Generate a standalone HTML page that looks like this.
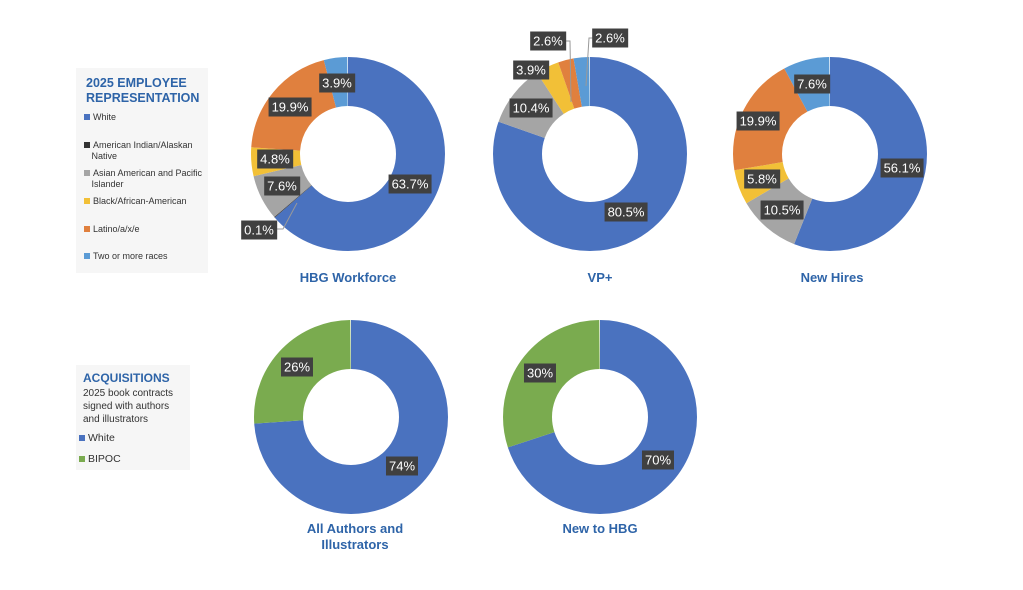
<!DOCTYPE html>
<html><head><meta charset="utf-8"><style>
body{margin:0;width:1023px;height:590px;background:#fff;position:relative;overflow:hidden;font-family:"Liberation Sans",sans-serif}
.lb{position:absolute;transform:translate(-50%,-50%);background:#404040;color:#fff;font-size:13px;padding:2px 3px;white-space:nowrap;line-height:15px}
.t{position:absolute;transform:translateX(-50%);color:#2E64A8;font-weight:bold;font-size:13px;text-align:center;line-height:16px;white-space:nowrap}
.box{position:absolute;background:#f6f6f6}
.li{font-size:9px;color:#333;position:absolute;left:8px;line-height:11px;white-space:nowrap}
.li i{display:inline-block;width:6px;height:6px;margin-right:3px;vertical-align:0}
</style></head><body>
<svg width="1023" height="590" style="position:absolute;left:0;top:0">
<g fill="none" stroke-width="49">
<g transform="translate(348,154) rotate(-90)">
<circle r="72.5" pathLength="100" stroke="#4A72BF" stroke-dasharray="63.7 100" stroke-dashoffset="0"/>
<circle r="72.5" pathLength="100" stroke="#333" stroke-dasharray="0.15 100" stroke-dashoffset="-63.7"/>
<circle r="72.5" pathLength="100" stroke="#A5A5A5" stroke-dasharray="7.6 100" stroke-dashoffset="-63.8"/>
<circle r="72.5" pathLength="100" stroke="#F2C037" stroke-dasharray="4.8 100" stroke-dashoffset="-71.4"/>
<circle r="72.5" pathLength="100" stroke="#E0803E" stroke-dasharray="19.9 100" stroke-dashoffset="-76.2"/>
<circle r="72.5" pathLength="100" stroke="#5B9BD5" stroke-dasharray="3.9 100" stroke-dashoffset="-96.1"/>
</g>
<g transform="translate(590,154) rotate(-90)">
<circle r="72.5" pathLength="100" stroke="#4A72BF" stroke-dasharray="80.5 100" stroke-dashoffset="0"/>
<circle r="72.5" pathLength="100" stroke="#A5A5A5" stroke-dasharray="10.4 100" stroke-dashoffset="-80.5"/>
<circle r="72.5" pathLength="100" stroke="#F2C037" stroke-dasharray="3.9 100" stroke-dashoffset="-90.9"/>
<circle r="72.5" pathLength="100" stroke="#E0803E" stroke-dasharray="2.6 100" stroke-dashoffset="-94.8"/>
<circle r="72.5" pathLength="100" stroke="#5B9BD5" stroke-dasharray="2.6 100" stroke-dashoffset="-97.4"/>
</g>
<g transform="translate(830,154) rotate(-90)">
<circle r="72.5" pathLength="100" stroke="#4A72BF" stroke-dasharray="56.1 100" stroke-dashoffset="0"/>
<circle r="72.5" pathLength="100" stroke="#A5A5A5" stroke-dasharray="10.5 100" stroke-dashoffset="-56.1"/>
<circle r="72.5" pathLength="100" stroke="#F2C037" stroke-dasharray="5.8 100" stroke-dashoffset="-66.6"/>
<circle r="72.5" pathLength="100" stroke="#E0803E" stroke-dasharray="19.9 100" stroke-dashoffset="-72.4"/>
<circle r="72.5" pathLength="100" stroke="#5B9BD5" stroke-dasharray="7.7 100" stroke-dashoffset="-92.3"/>
</g>
<g transform="translate(351,417) rotate(-90)">
<circle r="72.5" pathLength="100" stroke="#4A72BF" stroke-dasharray="74 100"/>
<circle r="72.5" pathLength="100" stroke="#7AAB4F" stroke-dasharray="26 100" stroke-dashoffset="-74"/>
</g>
<g transform="translate(600,417) rotate(-90)">
<circle r="72.5" pathLength="100" stroke="#4A72BF" stroke-dasharray="70 100"/>
<circle r="72.5" pathLength="100" stroke="#7AAB4F" stroke-dasharray="30 100" stroke-dashoffset="-70"/>
</g>
</g>
<g fill="none" stroke="#999" stroke-width="1">
<polyline points="277,229 283,229 297,203"/>
<polyline points="564,41 570,41 571,102"/>
<polyline points="594,38 589,38 586,86"/>
</g>
</svg>
<div class="lb" style="left:337px;top:83px">3.9%</div>
<div class="lb" style="left:290px;top:107px">19.9%</div>
<div class="lb" style="left:275px;top:159px">4.8%</div>
<div class="lb" style="left:282px;top:186px">7.6%</div>
<div class="lb" style="left:259px;top:230px">0.1%</div>
<div class="lb" style="left:410px;top:184px">63.7%</div>
<div class="lb" style="left:548px;top:41px">2.6%</div>
<div class="lb" style="left:610px;top:38px">2.6%</div>
<div class="lb" style="left:531px;top:70px">3.9%</div>
<div class="lb" style="left:531px;top:108px">10.4%</div>
<div class="lb" style="left:626px;top:212px">80.5%</div>
<div class="lb" style="left:812px;top:84px">7.6%</div>
<div class="lb" style="left:758px;top:121px">19.9%</div>
<div class="lb" style="left:762px;top:179px">5.8%</div>
<div class="lb" style="left:782px;top:210px">10.5%</div>
<div class="lb" style="left:902px;top:168px">56.1%</div>
<div class="lb" style="left:297px;top:367px">26%</div>
<div class="lb" style="left:402px;top:466px">74%</div>
<div class="lb" style="left:540px;top:373px">30%</div>
<div class="lb" style="left:658px;top:460px">70%</div>
<div class="t" style="left:348px;top:270px">HBG Workforce</div>
<div class="t" style="left:600px;top:270px">VP+</div>
<div class="t" style="left:832px;top:270px">New Hires</div>
<div class="t" style="left:355px;top:521px">All Authors and<br>Illustrators</div>
<div class="t" style="left:600px;top:521px">New to HBG</div>
<div class="box" style="left:76px;top:68px;width:132px;height:205px">
<div style="position:absolute;left:10px;top:8px;color:#2E64A8;font-weight:bold;font-size:12.5px;line-height:15px">2025 EMPLOYEE<br>REPRESENTATION</div>
<div class="li" style="top:44px"><i style="background:#4A72BF"></i>White</div>
<div class="li" style="top:72px"><i style="background:#333"></i>American Indian/Alaskan<br>&nbsp;&nbsp;&nbsp;Native</div>
<div class="li" style="top:100px"><i style="background:#A5A5A5"></i>Asian American and Pacific<br>&nbsp;&nbsp;&nbsp;Islander</div>
<div class="li" style="top:128px"><i style="background:#F2C037"></i>Black/African-American</div>
<div class="li" style="top:156px"><i style="background:#E0803E"></i>Latino/a/x/e</div>
<div class="li" style="top:183px"><i style="background:#5B9BD5"></i>Two or more races</div>
</div>
<div class="box" style="left:76px;top:365px;width:114px;height:105px">
<div style="position:absolute;left:7px;top:6px;color:#2E64A8;font-weight:bold;font-size:12px">ACQUISITIONS</div>
<div style="position:absolute;left:7px;top:22px;color:#333;font-size:10px;line-height:13px;white-space:nowrap">2025 book contracts<br>signed with authors<br>and illustrators</div>
<div class="li" style="top:68px;left:3px;font-size:10.5px"><i style="background:#4A72BF"></i>White</div>
<div class="li" style="top:89px;left:3px;font-size:10.5px"><i style="background:#7AAB4F"></i>BIPOC</div>
</div>
</body></html>
